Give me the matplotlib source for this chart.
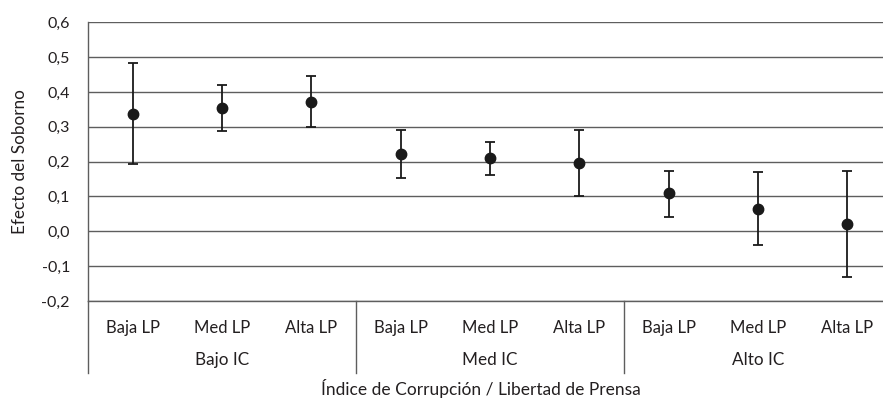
import matplotlib
matplotlib.use("Agg")
import matplotlib.pyplot as plt
from matplotlib.ticker import FuncFormatter

# Data
groups = ["Bajo IC", "Med IC", "Alto IC"]
levels = ["Baja LP", "Med LP", "Alta LP"]
effect = [0.337, 0.354, 0.371, 0.223, 0.210, 0.197, 0.109, 0.064, 0.022]
upper = [0.483, 0.421, 0.445, 0.292, 0.256, 0.291, 0.174, 0.169, 0.174]
lower = [0.193, 0.288, 0.299, 0.153, 0.163, 0.102, 0.041, -0.040, -0.130]

TEXT = "#231f20"
GRID = "#5e5e5e"

plt.rcParams['font.family'] = ['Lato', 'DejaVu Sans']

fig = plt.figure(figsize=(8.83, 4.0), dpi=100)
ax = fig.add_axes([88 / 883, 1 - 301 / 400, 804 / 883, (301 - 22.3) / 400])

x = list(range(len(effect)))
yerr = [[e - lo for e, lo in zip(effect, lower)],
        [up - e for e, up in zip(effect, upper)]]
ax.errorbar(x, effect, yerr=yerr, fmt="o", color="#1a1a1a", ms=7.5,
            elinewidth=1.3, capsize=3.6, capthick=1.3, zorder=3)

ax.set_xlim(-0.5, len(effect) - 0.5)
ax.set_ylim(-0.2, 0.6)
ax.set_yticks([i / 10 for i in range(-2, 7)])
ax.yaxis.set_major_formatter(FuncFormatter(lambda v, p: f"{v:.1f}".replace(".", ",")))
ax.grid(axis="y", color=GRID, lw=1.0)
ax.set_axisbelow(True)

for s in ["top", "right"]:
    ax.spines[s].set_visible(False)
for s in ["left", "bottom"]:
    ax.spines[s].set_color(GRID)
    ax.spines[s].set_linewidth(1.0)

ax.tick_params(axis="y", length=0, pad=13, labelsize=11.5, labelcolor=TEXT)
ax.set_xticks(x)
ax.set_xticklabels(levels * len(groups))
ax.tick_params(axis="x", length=0, pad=14, labelsize=12, labelcolor=TEXT)

# group separators and group labels below the axis
trans = ax.get_xaxis_transform()
for k in range(len(groups) + 1):
    ax.plot([k * 3 - 0.5] * 2, [0, -72 / 278.7], transform=trans,
            color=GRID, lw=1.0, clip_on=False)
for k, g in enumerate(groups):
    ax.text(k * 3 + 1, -59 / 278.7, g, transform=trans, ha="center", va="center",
            fontsize=12.3, color=TEXT)

ax.set_ylabel("Efecto del Soborno", fontsize=12.3, color=TEXT, labelpad=10)
fig.text(481 / 883, 1 - 388 / 400, "Índice de Corrupción / Libertad de Prensa",
         ha="center", va="center", fontsize=12.5, color=TEXT)

fig.savefig("out.png", dpi=100)
